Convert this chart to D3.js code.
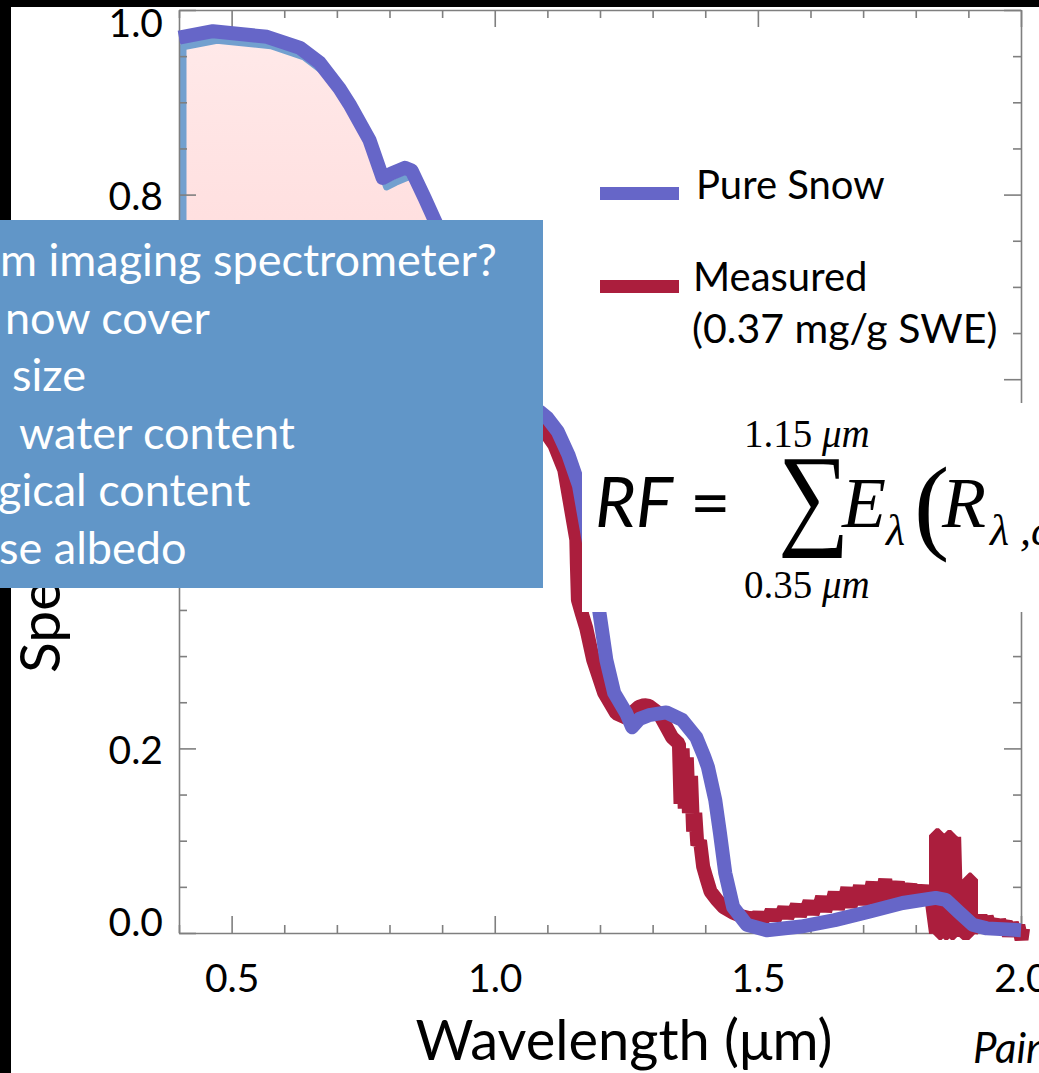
<!DOCTYPE html>
<html>
<head>
<meta charset="utf-8">
<script src="https://cdn.jsdelivr.net/npm/d3@7"></script>
<style>
  html, body { margin: 0; padding: 0; background: #000; overflow: hidden; }
  svg { display: block; }
</style>
</head>
<body>
<svg id="chart" width="1039" height="1073"></svg>
<script>
// Pure snow modelled spectral albedo
const pureWl = [0.400,0.4645,0.516,0.567,0.630,0.667,0.705,0.724,0.762,0.787,0.804,0.829,0.842,0.867,0.886,
  0.920,0.960,1.000,1.030,1.060,1.085,1.100,1.120,1.140,1.160,1.180,1.190,1.199,1.212,1.227,1.250,1.261,
  1.275,1.293,1.326,1.356,1.383,1.398,1.405,1.419,1.428,1.438,1.453,1.479,1.517,1.582,1.646,1.711,1.775,
  1.838,1.857,1.883,1.908,1.935,2.000];
const pureR = [0.970,0.977,0.974,0.971,0.959,0.943,0.915,0.898,0.859,0.818,0.823,0.829,0.826,0.796,0.772,
  0.730,0.670,0.600,0.560,0.570,0.565,0.558,0.543,0.518,0.485,0.420,0.380,0.347,0.296,0.260,0.238,0.223,
  0.232,0.236,0.239,0.231,0.212,0.191,0.180,0.144,0.108,0.065,0.028,0.009,0.003,0.007,0.014,0.023,0.0325,
  0.038,0.036,0.022,0.009,0.005,0.003];

// Field-measured spectral albedo (0.37 mg/g SWE dust)
const measWl = [0.400,0.450,0.500,0.550,0.600,0.650,0.700,0.750,0.800,0.850,0.900,0.950,1.000,1.030,1.060,
  1.090,1.113,1.132,1.142,1.155,1.156,1.158,1.166,1.174,1.187,1.208,1.231,1.250,1.274,1.284,1.293,1.312,1.337,
  1.350,1.353,1.357,1.361,1.365,1.369,1.373,1.377,1.381,1.385,1.390,1.396,1.402,1.410,1.422,1.435,1.453,1.470,1.485,
  1.490,1.496,1.502,1.508,1.514,1.520,1.526,1.532,1.538,1.544,1.550,1.556,1.562,1.568,1.574,1.580,1.586,1.592,
  1.598,1.604,1.610,1.616,1.622,1.628,1.634,1.640,1.646,1.652,1.658,1.664,1.670,1.676,1.682,1.688,1.694,1.700,
  1.706,1.712,1.718,1.724,1.730,1.736,1.742,1.748,1.754,1.760,1.766,1.772,1.778,1.784,1.790,1.796,1.802,1.808,
  1.814,1.820,1.826,1.831,1.8385,1.8385,1.844,1.844,1.849,1.849,1.855,1.855,1.861,1.861,1.867,1.867,1.873,1.873,
  1.876,1.879,1.8835,1.889,1.9015,1.9015,1.905,1.905,1.911,1.917,1.923,1.929,1.935,1.941,1.947,1.953,1.959,
  1.965,1.971,1.977,1.983,1.989,1.995,2.001,2.004];
const measR = [0.600,0.630,0.650,0.670,0.690,0.700,0.700,0.690,0.670,0.650,0.620,0.590,0.550,0.530,0.545,
  0.548,0.529,0.502,0.469,0.426,0.400,0.361,0.345,0.330,0.296,0.260,0.238,0.233,0.245,0.247,0.246,0.238,0.212,
  0.205,0.140,0.200,0.135,0.190,0.130,0.170,0.110,0.130,0.095,0.100,0.072,0.060,0.045,0.036,0.028,0.022,0.018,0.016,
  0.018,0.014,0.021,0.013,0.019,0.016,0.024,0.015,0.022,0.019,0.027,0.017,0.025,0.022,0.030,0.019,0.028,0.025,
  0.034,0.021,0.031,0.027,0.039,0.024,0.035,0.030,0.044,0.026,0.040,0.033,0.049,0.028,0.044,0.036,0.051,0.031,
  0.046,0.039,0.055,0.032,0.048,0.041,0.058,0.034,0.050,0.043,0.055,0.036,0.049,0.044,0.052,0.038,0.047,0.043,
  0.050,0.040,0.044,0.032,0.000,0.106,0.106,0.000,0.000,0.100,0.102,0.000,0.000,0.104,0.104,0.000,0.000,0.104,
  0.040,0.030,0.025,0.000,0.000,0.058,0.058,0.000,0.016,0.006,0.019,0.003,0.017,0.008,0.014,0.001,0.013,
  0.006,0.012,-0.003,0.010,0.002,0.008,-0.007,0.005];

// Axis ticks
const xMajor = [0.5, 1.0, 1.5, 2.0];
const xMinor = [0.4,0.6,0.7,0.8,0.9,1.1,1.2,1.3,1.4,1.6,1.7,1.8,1.9];
const yMajor = [0.0, 0.2, 0.4, 0.6, 0.8, 1.0];
const yMinor = [0.05,0.1,0.15,0.25,0.3,0.35,0.45,0.5,0.55,0.65,0.7,0.75,0.85,0.9,0.95];

// Text content
const xTitle = "Wavelength (\u03BCm)";
const yTitle = "Spectral Albedo";
const legendNames = ["Pure Snow", "Measured"];
const legendNote = "(0.37 mg/g SWE)";
const calloutLines = ["m imaging spectrometer?", "now cover", "size", "water content", "gical content", "se albedo"];
const creditText = "Painter et al.";

const W = 1039, H = 1073;
const PURE = "#6666c8", MEAS = "#ab1e3d", FRAME = "#7f7f7f";

const svg = d3.select("#chart");
svg.append("rect").attr("width", W).attr("height", H).attr("fill", "#000");
svg.append("rect").attr("x", 11).attr("y", 7).attr("width", W - 11).attr("height", H - 7).attr("fill", "#fff");

const x = d3.scaleLinear().domain([0.4, 2.0]).range([179, 1021]);
const y = d3.scaleLinear().domain([0, 1]).range([933, 10]);

const pure = pureWl.map((w, i) => ({ w, r: pureR[i] }));
const meas = measWl.map((w, i) => ({ w, r: measR[i] }));

// Highlighted forcing region under the pure-snow curve
const defs = svg.append("defs");
const grad = defs.append("linearGradient").attr("id", "rfFill")
  .attr("x1", 0).attr("y1", 0).attr("x2", 0).attr("y2", 1);
grad.append("stop").attr("offset", "0").attr("stop-color", "#ffe9e9");
grad.append("stop").attr("offset", "1").attr("stop-color", "#ffd3d3");

const rfArea = d3.area()
  .x(d => x(d.w) + 4)
  .y0(y(0.5))
  .y1(d => y(d.r) + 9);
svg.append("path")
  .datum(pure.filter(d => d.w <= 1.06 && d.w >= 0.4))
  .attr("d", rfArea)
  .attr("fill", "url(#rfFill)")
  .attr("stroke", "#72a0cf")
  .attr("stroke-width", 7)
  .attr("stroke-linejoin", "round");

// Frame axes: ticks point inward on all four sides
function styleAxis(g) {
  g.select(".domain").attr("stroke", FRAME).attr("stroke-width", 1.6);
  g.selectAll(".tick line").attr("stroke", FRAME).attr("stroke-width", 1.6);
}
const tickFont = "Lato, 'Open Sans', sans-serif";

const gBottom = svg.append("g").attr("transform", `translate(0,${y(0)})`)
  .call(d3.axisBottom(x).tickValues(xMajor).tickSize(-17).tickSizeOuter(0).tickPadding(0)
    .tickFormat(d3.format(".1f")));
styleAxis(gBottom);
gBottom.selectAll(".tick text").attr("y", 59).attr("dy", 0)
  .attr("font-family", tickFont).attr("font-size", 39).attr("fill", "#000");
svg.append("g").attr("transform", `translate(0,${y(0)})`)
  .call(d3.axisBottom(x).tickValues(xMinor).tickSize(-8).tickFormat(""))
  .call(g => g.select(".domain").remove())
  .call(styleAxis);

const gTop = svg.append("g").attr("transform", `translate(0,${y(1)})`)
  .call(d3.axisTop(x).tickValues(xMajor).tickSize(-17).tickSizeOuter(0).tickFormat(""));
styleAxis(gTop);
svg.append("g").attr("transform", `translate(0,${y(1)})`)
  .call(d3.axisTop(x).tickValues(xMinor).tickSize(-8).tickFormat(""))
  .call(g => g.select(".domain").remove())
  .call(styleAxis);

const gLeft = svg.append("g").attr("transform", `translate(${x(0.4)},0)`)
  .call(d3.axisLeft(y).tickValues(yMajor).tickSize(-17).tickSizeOuter(0).tickPadding(16)
    .tickFormat(d3.format(".1f")));
styleAxis(gLeft);
gLeft.selectAll(".tick text")
  .attr("dy", 0)
  .attr("y", d => d === 1 ? 26 : d === 0 ? 2 : 15)
  .attr("font-family", tickFont).attr("font-size", 39).attr("fill", "#000");
svg.append("g").attr("transform", `translate(${x(0.4)},0)`)
  .call(d3.axisLeft(y).tickValues(yMinor).tickSize(-8).tickFormat(""))
  .call(g => g.select(".domain").remove())
  .call(styleAxis);

const gRight = svg.append("g").attr("transform", `translate(${x(2.0)},0)`)
  .call(d3.axisRight(y).tickValues(yMajor).tickSize(-17).tickSizeOuter(0).tickFormat(""));
styleAxis(gRight);
svg.append("g").attr("transform", `translate(${x(2.0)},0)`)
  .call(d3.axisRight(y).tickValues(yMinor).tickSize(-8).tickFormat(""))
  .call(g => g.select(".domain").remove())
  .call(styleAxis);

// Spectra
const line = d3.line().x(d => x(d.w)).y(d => y(d.r));
svg.append("path").datum(meas).attr("d", line)
  .attr("fill", "none").attr("stroke", MEAS).attr("stroke-width", 14)
  .attr("stroke-linejoin", "bevel");
svg.append("path").datum(pure).attr("d", line)
  .attr("fill", "none").attr("stroke", PURE).attr("stroke-width", 14)
  .attr("stroke-linejoin", "round");

// Axis titles
svg.append("text").attr("x", 624).attr("y", 1060).attr("text-anchor", "middle")
  .attr("font-family", tickFont).attr("font-size", 56).attr("fill", "#000").text(xTitle);
svg.append("text").attr("transform", "translate(60,673) rotate(-90)")
  .attr("font-family", tickFont).attr("font-size", 57).attr("fill", "#000").text(yTitle);
svg.append("text").attr("x", 973).attr("y", 1063)
  .attr("font-family", tickFont).attr("font-style", "italic").attr("font-size", 42)
  .attr("fill", "#000").text(creditText);

// Legend
const legend = svg.append("g");
[PURE, MEAS].forEach((c, i) => {
  const ly = i === 0 ? 193.5 : 286.5;
  legend.append("line").attr("x1", 600).attr("x2", 679).attr("y1", ly).attr("y2", ly)
    .attr("stroke", c).attr("stroke-width", 13);
  legend.append("text").attr("x", i === 0 ? 696 : 693).attr("y", i === 0 ? 199 : 291)
    .attr("font-family", tickFont).attr("font-size", 40).attr("fill", "#000").text(legendNames[i]);
});
legend.append("text").attr("x", 692).attr("y", 343)
  .attr("font-family", tickFont).attr("font-size", 41).attr("fill", "#000").text(legendNote);

// Call-out box
svg.append("rect").attr("x", 0).attr("y", 220).attr("width", 543).attr("height", 368).attr("fill", "#6196c8");
const calloutX = [0, 5, 12, 19, -2, -1];
calloutLines.forEach((t, i) => {
  svg.append("text").attr("x", calloutX[i]).attr("y", 276 + i * 57.5)
    .attr("font-family", "Lato, 'Open Sans', sans-serif").attr("font-size", 45)
    .attr("fill", "#fff").attr("xml:space", "preserve").text(t);
});

// Forcing equation panel
svg.append("rect").attr("x", 582).attr("y", 403).attr("width", W - 582).attr("height", 209).attr("fill", "#fff");
const eq = svg.append("g").attr("fill", "#000");
const serif = "'Liberation Serif', 'DejaVu Serif', serif";
eq.append("text").attr("x", 595).attr("y", 527).attr("font-family", tickFont)
  .attr("font-style", "italic").attr("font-size", 70).text("RF");
eq.append("text").attr("x", 690).attr("y", 527).attr("font-family", tickFont)
  .attr("font-size", 70).text("=");
eq.append("text").attr("transform", "translate(778,534) scale(0.88,1)")
  .attr("font-family", serif).attr("font-size", 114).text("\u2211");
const up = eq.append("text").attr("x", 744).attr("y", 447).attr("font-family", serif).attr("font-size", 39);
up.append("tspan").text("1.15 ");
up.append("tspan").attr("font-style", "italic").text("\u03BCm");
const lo = eq.append("text").attr("x", 744).attr("y", 598).attr("font-family", serif).attr("font-size", 39);
lo.append("tspan").text("0.35 ");
lo.append("tspan").attr("font-style", "italic").text("\u03BCm");
eq.append("text").attr("x", 842).attr("y", 527).attr("font-family", serif)
  .attr("font-style", "italic").attr("font-size", 72).text("E");
eq.append("text").attr("x", 886).attr("y", 545).attr("font-family", serif)
  .attr("font-style", "italic").attr("font-size", 44).text("\u03BB");
eq.append("text").attr("x", 914).attr("y", 540).attr("font-family", serif)
  .attr("font-size", 106).text("(");
eq.append("text").attr("x", 942).attr("y", 527).attr("font-family", serif)
  .attr("font-style", "italic").attr("font-size", 72).text("R");
eq.append("text").attr("x", 990).attr("y", 545).attr("font-family", serif)
  .attr("font-style", "italic").attr("font-size", 44).attr("xml:space", "preserve").text("\u03BB ,clean");
</script>
</body>
</html>
